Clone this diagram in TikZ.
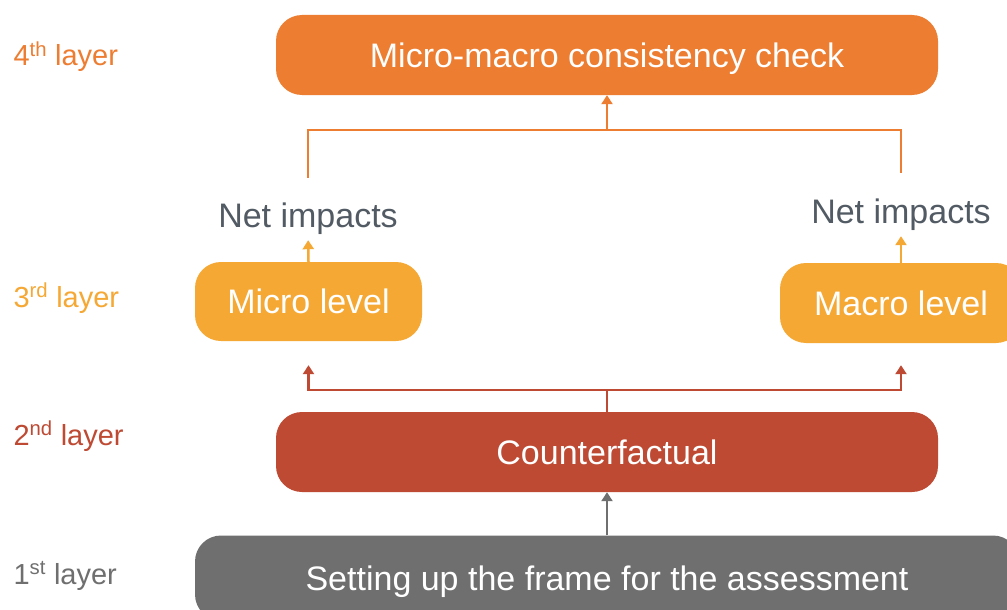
\documentclass[tikz,border=0pt]{standalone}
\usepackage{fontspec}
\setmainfont{Liberation Sans}
\usetikzlibrary{arrows.meta}
\definecolor{layerfour}{HTML}{ED7D31}
\definecolor{layerthree}{HTML}{F5A833}
\definecolor{layertwo}{HTML}{BE4A33}
\definecolor{layerone}{HTML}{6F6F6F}
\definecolor{nettext}{HTML}{525A63}
\begin{document}
\begin{tikzpicture}[x=1pt, y=-1pt,
  box/.style={rounded corners=26pt, text=white, inner sep=0pt,
    text height=24pt, text depth=0pt, font=\fontsize{34}{38}\selectfont},
  lbl/.style={anchor=base west, font=\fontsize{29}{33}\selectfont},
  net/.style={text=nettext, inner sep=4pt, text height=24pt, text depth=0pt,
    font=\fontsize{34}{38}\selectfont},
  link/.style={line width=2.5pt, -{Triangle[width=11pt,length=9pt]}}
]
  \clip (0, 0) rectangle (1007, 610);
  \fill[white] (0, 0) rectangle (1007, 610);

  % layer labels
  \node[lbl, text=layerfour] (lfour) at (10, 66) {4\textsuperscript{th} layer};
  \node[lbl, text=layerthree] (lthree) at (10, 307) {3\textsuperscript{rd} layer};
  \node[lbl, text=layertwo] (ltwo) at (10, 445) {2\textsuperscript{nd} layer};
  \node[lbl, text=layerone] (lone) at (10, 584) {1\textsuperscript{st} layer};

  % boxes
  \node[box, fill=layerfour, minimum width=662pt, minimum height=80pt]
    (check) at (607, 55) {Micro-macro consistency check};
  \node[box, fill=layerthree, minimum width=227pt, minimum height=79pt]
    (micro) at (308.5, 301.5) {Micro level};
  \node[box, fill=layerthree, minimum width=242pt, minimum height=80pt]
    (macro) at (901, 303) {Macro level};
  \node[box, fill=layertwo, minimum width=662pt, minimum height=80pt]
    (cf) at (607, 452) {Counterfactual};
  \node[box, fill=layerone, minimum width=824pt, minimum height=85pt]
    (frame) at (607, 578) {Setting up the frame for the assessment};

  \node[net] (netmicro) at (308, 215) {Net impacts};
  \node[net] (netmacro) at (901, 211) {Net impacts};

  \coordinate (topjoin) at (607, 130);
  \coordinate (midjoin) at (607, 390);

  % connectors
  \draw[link, layerone] (frame.north) -- (cf.south);
  \draw[line width=2.5pt, layertwo] (cf.north) -- (midjoin);
  \draw[link, layertwo, shorten >=24pt] (midjoin) -| (micro.south);
  \draw[link, layertwo, shorten >=22pt] (midjoin) -| (macro.south);
  \draw[link, layerthree, shorten >=9pt] (micro.north) -- (netmicro.south);
  \draw[link, layerthree, shorten >=9pt] (macro.north) -- (netmacro.south);
  \draw[line width=2.5pt, layerfour, shorten <=21pt, shorten >=22pt]
    (netmicro.north) |- (topjoin) -| (netmacro.north);
  \draw[link, layerfour] (topjoin) -- (check.south);
\end{tikzpicture}
\end{document}
